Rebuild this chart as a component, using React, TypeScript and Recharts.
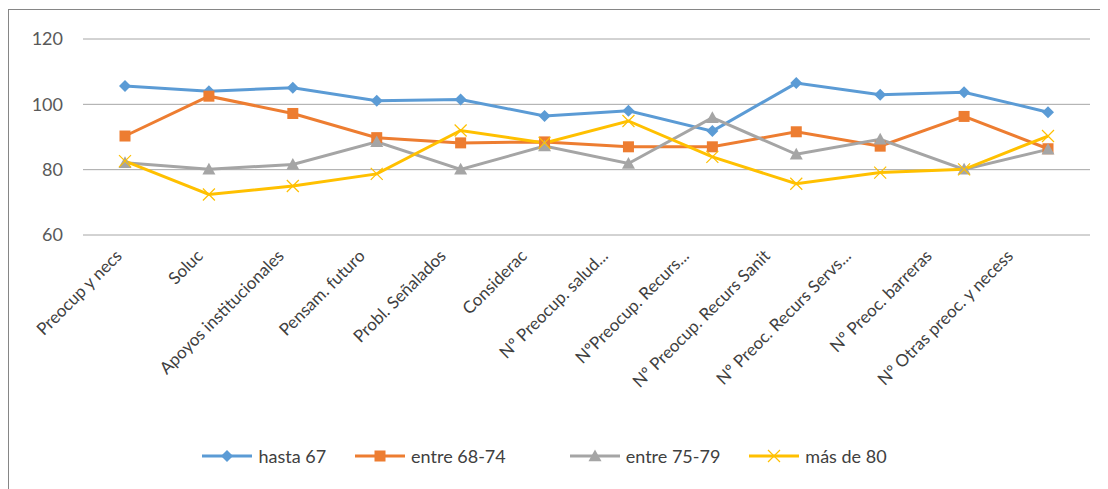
import React from "react";
import { LineChart, Line, XAxis, YAxis, CartesianGrid, Legend } from "recharts";

const CATEGORIES = [
  "Preocup y necs",
  "Soluc",
  "Apoyos institucionales",
  "Pensam. futuro",
  "Probl. Señalados",
  "Considerac",
  "Nº Preocup. salud...",
  "NºPreocup. Recurs...",
  "Nº Preocup. Recurs Sanit",
  "Nº Preoc. Recurs Servs...",
  "Nº Preoc.  barreras",
  "Nº Otras preoc. y necess",
];

const HASTA_67 = [105.6, 104, 105.1, 101.1, 101.5, 96.4, 98, 91.8, 106.5, 102.9, 103.7, 97.6];
const ENTRE_68_74 = [90.3, 102.5, 97.2, 89.8, 88.2, 88.5, 87, 87, 91.6, 87.2, 96.3, 86.4];
const ENTRE_75_79 = [82.1, 80.1, 81.6, 88.5, 80.1, 87.2, 81.9, 95.9, 84.7, 89.3, 80.1, 86.2];
const MAS_DE_80 = [82.6, 72.4, 75, 78.7, 92, 88.2, 94.9, 83.9, 75.7, 79.1, 80.1, 90.3];

const Y_TICKS = [60, 80, 100, 120];

const SERIES = [
  { key: "h67", name: "hasta 67", color: "#5B9BD5", shape: "diamond" },
  { key: "e6874", name: "entre 68-74", color: "#ED7D31", shape: "square" },
  { key: "e7579", name: "entre 75-79", color: "#A5A5A5", shape: "triangle" },
  { key: "m80", name: "más de 80", color: "#FFC000", shape: "cross" },
];

const data = CATEGORIES.map((name, i) => ({
  name,
  h67: HASTA_67[i],
  e6874: ENTRE_68_74[i],
  e7579: ENTRE_75_79[i],
  m80: MAS_DE_80[i],
}));

const FONT = "Lato, 'Open Sans', sans-serif";

function Marker({ shape, color, cx, cy }: any) {
  if (cx == null || cy == null) return null;
  if (shape === "diamond") {
    const r = 6;
    return <path d={`M${cx},${cy - r}L${cx + r},${cy}L${cx},${cy + r}L${cx - r},${cy}Z`} fill={color} />;
  }
  if (shape === "square") {
    const r = 5.5;
    return <rect x={cx - r} y={cy - r} width={2 * r} height={2 * r} fill={color} />;
  }
  if (shape === "triangle") {
    const r = 6.5;
    return <path d={`M${cx},${cy - r}L${cx + r},${cy + r * 0.8}L${cx - r},${cy + r * 0.8}Z`} fill={color} />;
  }
  const r = 6;
  return (
    <path
      d={`M${cx - r},${cy - r}L${cx + r},${cy + r}M${cx - r},${cy + r}L${cx + r},${cy - r}`}
      stroke={color}
      strokeWidth={1.2}
      fill="none"
    />
  );
}

// excel packs the rotated labels a little tighter than the points
function XTick({ x, y, payload, index }: any) {
  const i = index ?? payload.index ?? 0;
  return (
    <g transform={`translate(${x - 2 - i * 2.9},${y + 14})`}>
      <text
        transform="rotate(-45)"
        textAnchor="end"
        fill="#404040"
        fontSize={17}
        fontFamily={FONT}
      >
        {payload.value}
      </text>
    </g>
  );
}

const LEGEND_GAPS = [29, 64, 29, 0];

function LegendContent() {
  return (
    <div
      style={{
        display: "flex",
        justifyContent: "center",
        alignItems: "center",
        height: 40,
        paddingRight: 10,
        fontFamily: FONT,
        fontSize: 18,
        color: "#404040",
      }}
    >
      {SERIES.map((s, i) => (
        <div key={s.key} style={{ display: "flex", alignItems: "center", marginRight: LEGEND_GAPS[i] }}>
          <svg width={50} height={16} style={{ marginRight: 6 }}>
            <line x1={0} y1={8} x2={50} y2={8} stroke={s.color} strokeWidth={3} />
            <Marker shape={s.shape} color={s.color} cx={25} cy={8} />
          </svg>
          <span>{s.name}</span>
        </div>
      ))}
    </div>
  );
}

export default function App() {
  return (
    <div
      style={{
        width: 1110,
        height: 490,
        borderLeft: "1px solid #868686",
        borderTop: "1px solid #868686",
        marginTop: 1,
        background: "#fff",
      }}
    >
      <LineChart
        width={1100}
        height={480}
        data={data}
        margin={{ top: 29, right: 19, bottom: 14, left: 0 }}
      >
        <CartesianGrid vertical={false} stroke="#A6A6A6" strokeWidth={1} />
        <XAxis
          dataKey="name"
          interval={0}
          axisLine={false}
          tickLine={false}
          height={201}
          padding={{ left: 42, right: 42 }}
          tick={<XTick />}
        />
        <YAxis
          domain={[60, 120]}
          ticks={Y_TICKS}
          width={74}
          axisLine={false}
          tickLine={false}
          tickSize={0}
          tickMargin={20}
          tick={{ fill: "#595959", fontSize: 18, fontFamily: FONT }}
        />
        <Legend verticalAlign="bottom" height={40} content={<LegendContent />} />
        {SERIES.map((s) => (
          <Line
            key={s.key}
            type="linear"
            dataKey={s.key}
            name={s.name}
            stroke={s.color}
            strokeWidth={3}
            dot={(p: any) => <Marker key={`${s.key}-${p.index}`} shape={s.shape} color={s.color} cx={p.cx} cy={p.cy} />}
            activeDot={false}
            isAnimationActive={false}
          />
        ))}
      </LineChart>
    </div>
  );
}
